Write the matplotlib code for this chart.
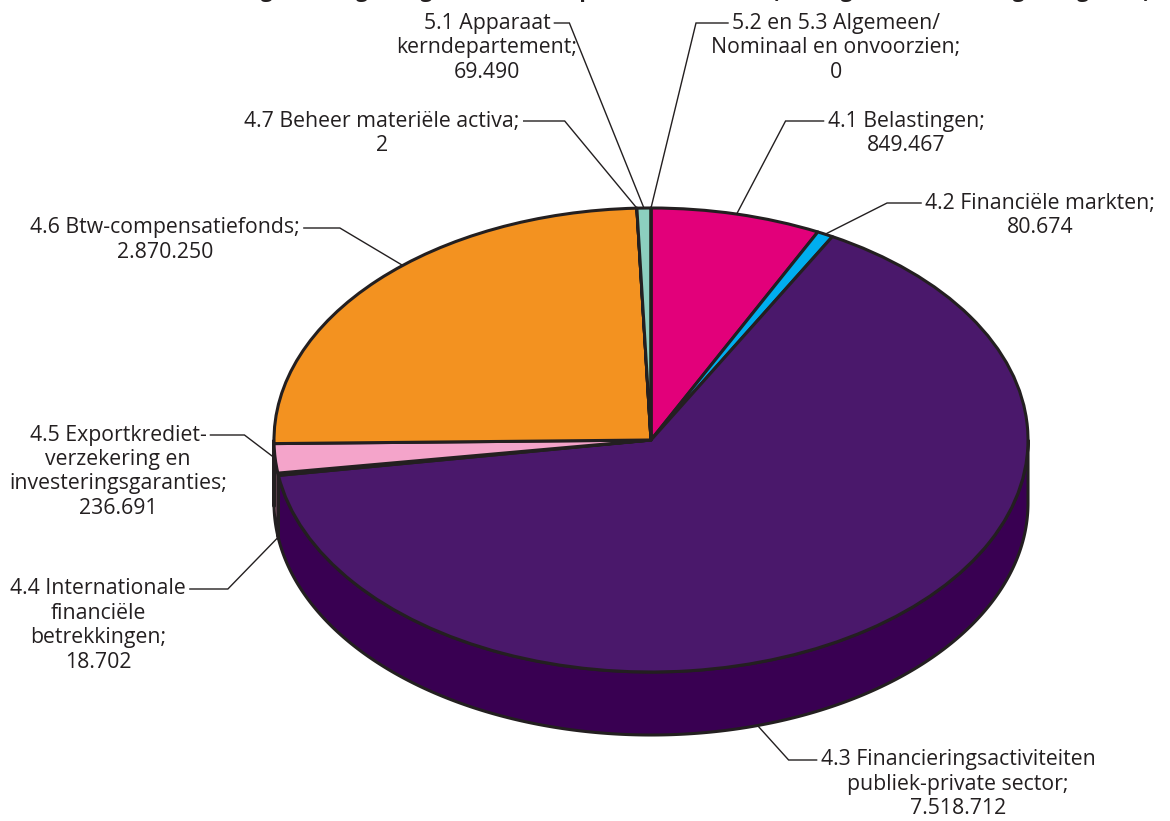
import matplotlib
matplotlib.use("Agg")
import matplotlib.pyplot as plt
from matplotlib.transforms import Affine2D
from matplotlib.patches import Polygon
import numpy as np

plt.rcParams['font.family'] = ['Open Sans', 'DejaVu Sans']

# ---- data (bedragen x € 1.000) ----
categories = [
    "4.1 Belastingen",
    "4.2 Financiële markten",
    "4.3 Financieringsactiviteiten publiek-private sector",
    "4.4 Internationale financiële betrekkingen",
    "4.5 Exportkredietverzekering en investeringsgaranties",
    "4.6 Btw-compensatiefonds",
    "4.7 Beheer materiële activa",
    "5.1 Apparaat kerndepartement",
    "5.2 en 5.3 Algemeen/ Nominaal en onvoorzien",
]
values = [849467, 80674, 7518712, 18702, 236691, 2870250, 2, 69490, 0]
label_lines = [
    ["4.1 Belastingen;"],
    ["4.2 Financiële markten;"],
    ["4.3 Financieringsactiviteiten", "publiek-private sector;"],
    ["4.4 Internationale", "financiële", "betrekkingen;"],
    ["4.5 Exportkrediet-", "verzekering en", "investeringsgaranties;"],
    ["4.6 Btw-compensatiefonds;"],
    ["4.7 Beheer materiële activa;"],
    ["5.1 Apparaat", "kerndepartement;"],
    ["5.2 en 5.3 Algemeen/", "Nominaal en onvoorzien;"],
]
top_colors = ["#e2007a", "#00aeef", "#4a186b", "#5b2a7a", "#f4a4ca",
              "#f39220", "#8ccfbf", "#8ccfbf", "#8ccfbf"]
side_colors = ["#a0005a", "#0080b0", "#390052", "#41115a", "#c47ea0",
               "#b86a10", "#62a090", "#62a090", "#62a090"]
title = "Uitgaven begroting IX Financiën, per beleidsartikel (bedragen x € 1.000; begroting 2013)"

# ---- layout (pixels) ----
W, H = 1170, 821
cx, cy, rx, ry, depth = 651, 440, 377, 232, 63
edge = "#231f20"
# label centre x, first-line y, leader side, elbow length, anchor fraction, anchor on top/bottom edge
layout = [
    (906, 121, "left", 38, 0.5, "top"),
    (1040, 203, "left", 34, 0.5, "top"),
    (958, 760, "left", 28, 0.58, "bottom"),
    (98, 589, "right", 38, 0.5, "bottom"),
    (118, 435, "right", 34, 0.5, "top"),
    (165, 228, "right", 36, 0.56, "top"),
    (382, 121, "right", 41, 0.5, "top"),
    (487, 23, "right", 15, 0.5, "top"),
    (836, 23, "left", 32, 0.5, "top"),
]
line_h = 24.5
fs = 15.3

fig = plt.figure(figsize=(W / 100, H / 100), dpi=100)
ax = fig.add_axes([0, 0, 1, 1])

wedges, _ = ax.pie(values, startangle=90, counterclock=False, colors=top_colors,
                   wedgeprops=dict(edgecolor=edge, linewidth=2.2, joinstyle="round"))
ax.set_xlim(0, W)
ax.set_ylim(H, 0)
ax.set_aspect("auto")
ax.axis("off")

squash = Affine2D().scale(rx, -ry).translate(cx, cy) + ax.transData
for w in wedges:
    w.set_transform(squash)
    w.set_zorder(3)


def pt(theta_deg, dz=0.0):
    t = np.deg2rad(theta_deg)
    return cx + rx * np.cos(t), cy - ry * np.sin(t) + dz


# side walls (front half of the cylinder)
for w, sc in zip(wedges, side_colors):
    a, b = w.theta1, w.theta2
    for k in range(-2, 2):
        s = max(a, 180 + 360 * k)
        e = min(b, 360 + 360 * k)
        if e - s <= 1e-6:
            continue
        th = np.linspace(s, e, max(2, int((e - s) * 2)))
        top = [pt(t) for t in th]
        bot = [pt(t, depth) for t in th[::-1]]
        ax.add_patch(Polygon(top + bot, closed=True, facecolor=sc, edgecolor=edge,
                             linewidth=2.2, joinstyle="round", zorder=1))

# labels with leader lines
fig.canvas.draw()
renderer = fig.canvas.get_renderer()
inv = ax.transData.inverted()
for w, lines, v, (lx, ly, side, elbow, frac, where) in zip(wedges, label_lines, values, layout):
    val = f"{v:,}".replace(",", ".")
    all_lines = lines + [val]
    texts = []
    for i, s in enumerate(all_lines):
        t = ax.text(lx, ly + i * line_h, s, ha="center", va="center", fontsize=fs,
                    color="#231f20", zorder=5)
        texts.append(t)
    bb = texts[0].get_window_extent(renderer)
    (x0, _), (x1, _) = inv.transform([[bb.x0, bb.y0], [bb.x1, bb.y1]])
    theta = w.theta2 - frac * (w.theta2 - w.theta1)
    ax_, ay_ = pt(theta, depth if where == "bottom" else 0)
    if side == "right":
        sx = max(x0, x1) + 4
        ex = sx + elbow
    else:
        sx = min(x0, x1) - 4
        ex = sx - elbow
    ax.plot([sx, ex, ax_], [ly, ly, ay_], color=edge, linewidth=1.0, zorder=4,
            solid_joinstyle="miter")

ax.text(690, -3, title, ha="center", va="baseline", fontsize=fs, fontweight="bold",
        color="#231f20")

fig.savefig("out.png", dpi=100)
